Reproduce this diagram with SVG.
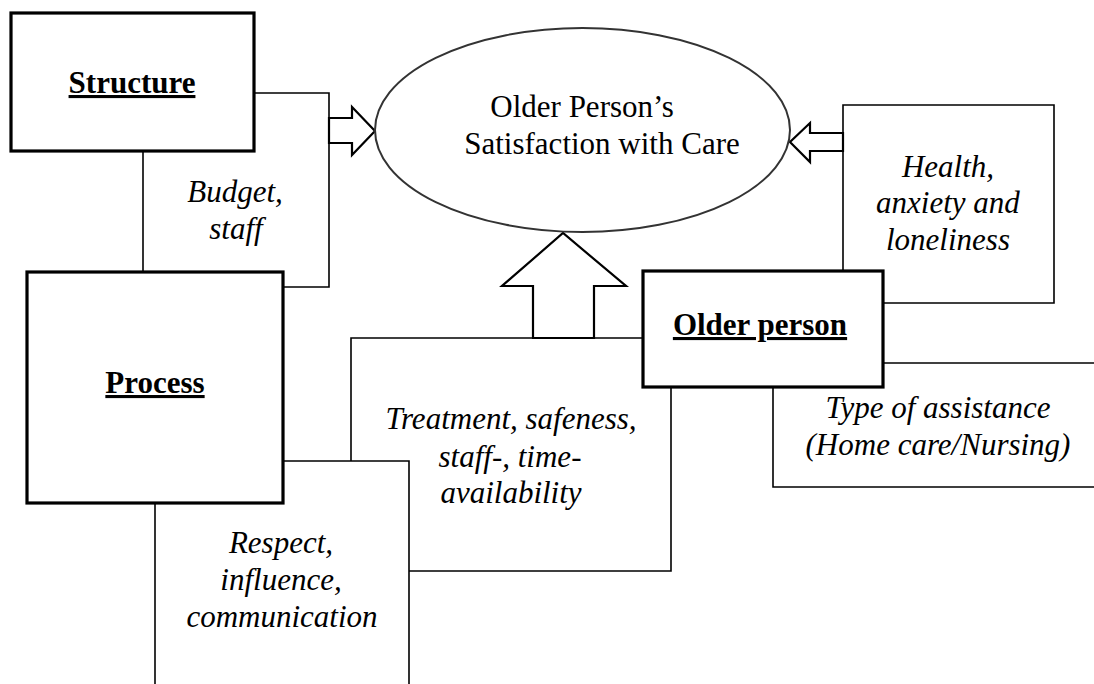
<svg xmlns="http://www.w3.org/2000/svg" width="1094" height="684" viewBox="0 0 1094 684">
<style>
text{font-family:"Liberation Serif","DejaVu Serif",serif;fill:#000;text-anchor:middle}
.lbl{font-size:31px;font-style:italic}
.title{font-size:31px;font-weight:bold;text-decoration:underline}
.main{font-size:31px}
.box{fill:#fff;stroke:#000;stroke-width:3.2}
.thin{fill:none;stroke:#000;stroke-width:1.6}
.arrow{fill:#fff;stroke:#000;stroke-width:2.2;stroke-linejoin:miter}
</style>
<rect width="1094" height="684" fill="#fff"/>
<g id="connectors">
<polyline class="thin" points="254,93 329,93 329,287 283,287"/>
<line class="thin" x1="143" y1="151" x2="143" y2="272"/>
<polyline class="thin" points="883,363 1094,363"/>
<polyline class="thin" points="773,387 773,487 1094,487"/>
<polyline class="thin" points="643,338 351,338 351,461"/>
<polyline class="thin" points="283,461 409,461 409,684"/>
<polyline class="thin" points="409,571 671,571 671,387"/>
<line class="thin" x1="155" y1="503" x2="155" y2="684"/>
<polygon class="arrow" points="329,118 352,118 352,107 375,131 352,155 352,143 329,143"/>
<polygon class="arrow" points="843,133 810,133 810,123 790,142 810,162 810,151 843,151"/>
<polygon class="arrow" points="533,338 533,286 502,286 563,233 626,286 594,286 594,338"/>
</g>
<g id="health">
<polyline class="thin" points="843,271 843,105 1054,105 1054,303 883,303"/>
<text class="lbl" x="948" y="177">Health,</text>
<text class="lbl" x="948" y="213">anxiety and</text>
<text class="lbl" x="948" y="250">loneliness</text>
</g>
<g id="satisfaction">
<ellipse cx="582.5" cy="130" rx="207.5" ry="102" fill="#fff" stroke="#333" stroke-width="2"/>
<text class="main" x="582" y="117">Older Person’s</text>
<text class="main" x="602" y="154">Satisfaction with Care</text>
</g>
<g id="structure">
<rect class="box" x="11" y="13" width="243" height="138"/>
<text class="title" x="132" y="93">Structure</text>
</g>
<g id="process">
<rect class="box" x="27" y="272" width="256" height="231"/>
<text class="title" x="155" y="393">Process</text>
</g>
<g id="older-person">
<rect class="box" x="643" y="271" width="240" height="116"/>
<text class="title" x="760" y="335">Older person</text>
</g>
<g id="budget">
<text class="lbl" x="235" y="202">Budget,</text>
<text class="lbl" x="236" y="239">staff</text>
</g>
<g id="type-of-assistance">
<text class="lbl" x="938" y="418">Type of assistance</text>
<text class="lbl" x="938" y="455">(Home care/Nursing)</text>
</g>
<g id="treatment">
<text class="lbl" x="511" y="429">Treatment, safeness,</text>
<text class="lbl" x="510" y="467">staff-, time-</text>
<text class="lbl" x="511" y="503">availability</text>
</g>
<g id="respect">
<text class="lbl" x="281" y="553">Respect,</text>
<text class="lbl" x="281" y="590">influence,</text>
<text class="lbl" x="282" y="627">communication</text>
</g>
</svg>
